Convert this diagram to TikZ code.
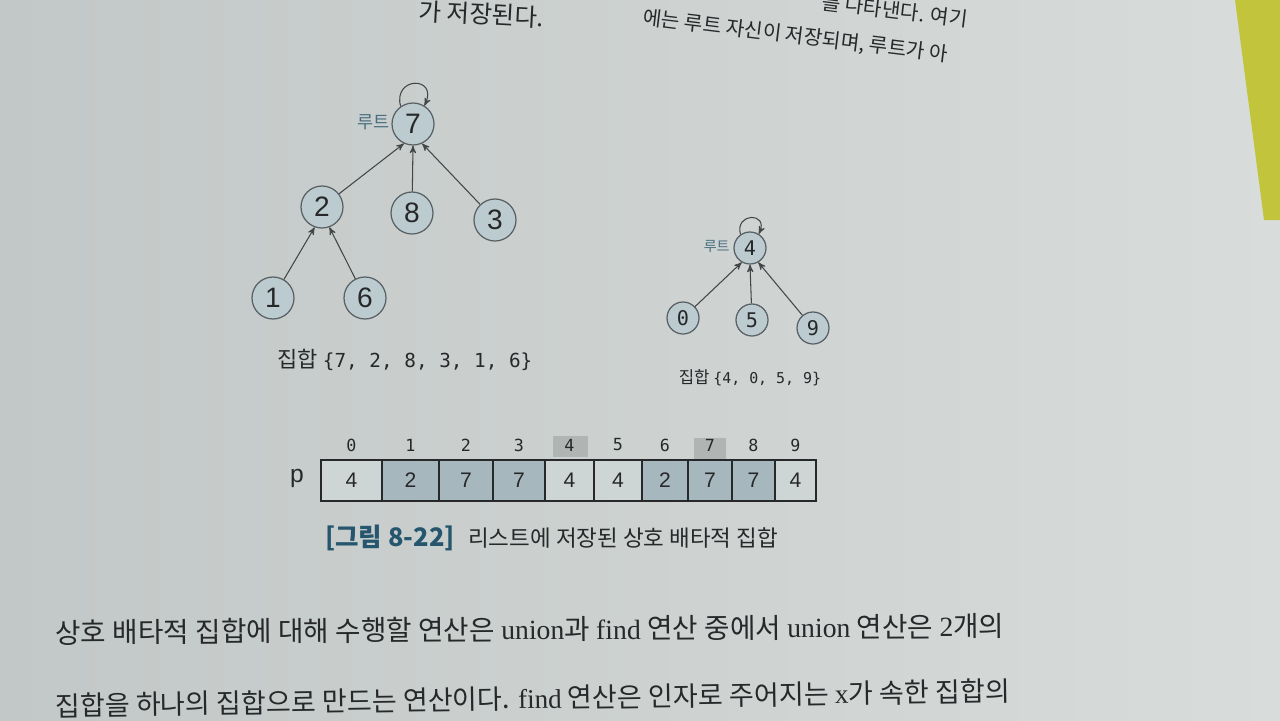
\documentclass[tikz,border=0pt]{standalone}
\usepackage{fontspec}
\setmainfont{Noto Sans CJK KR}
\newfontfamily\latinserif{Liberation Serif}
\newfontfamily\codefont{DejaVu Sans Mono}
\newfontfamily\digitfont{Liberation Sans}
\usetikzlibrary{arrows}

\definecolor{pagegray}{RGB}{216,220,219}
\definecolor{pageshade}{RGB}{194,200,199}
\definecolor{nodefill}{RGB}{188,203,208}
\definecolor{nodeline}{RGB}{88,96,100}
\definecolor{linkgray}{RGB}{66,70,72}
\definecolor{rootblue}{RGB}{74,110,128}
\definecolor{cellpale}{RGB}{206,213,213}
\definecolor{celldark}{RGB}{166,183,189}
\definecolor{markgray}{RGB}{176,180,179}
\definecolor{capblue}{RGB}{38,86,110}
\definecolor{inkgray}{RGB}{38,40,42}
\definecolor{tabyellow}{RGB}{194,197,60}

\newcommand{\eng}[1]{{\latinserif #1}}

\tikzset{
  elem/.style={circle,draw=nodeline,fill=nodefill,line width=0.7pt,minimum size=0.84cm,
               inner sep=0pt,font=\digitfont\fontsize{16}{16}\selectfont},
  selem/.style={elem,minimum size=0.64cm,font=\codefont\fontsize{11.5}{11.5}\selectfont},
  link/.style={draw=linkgray,line width=0.6pt,-stealth'},
  rootlbl/.style={text=rootblue,inner sep=0pt,font=\fontsize{10}{10}\selectfont},
  setlbl/.style={inner sep=0pt,font=\fontsize{12.5}{12.5}\selectfont},
  cell/.style={draw=inkgray,line width=0.7pt,inner sep=0pt,minimum height=0.82cm,
               font=\digitfont\fontsize{12}{12}\selectfont},
  idx/.style={inner sep=0pt,font=\codefont\fontsize{9.5}{9.5}\selectfont},
  idxmark/.style={fill=markgray,inner sep=0pt,minimum width=0.7cm,minimum height=0.42cm},
  toptxt/.style={inner sep=0pt,font=\fontsize{11.5}{11.5}\selectfont},
  bodytxt/.style={inner sep=0pt,font=\fontsize{15.8}{15.8}\selectfont}
}

\begin{document}
\begin{tikzpicture}[x=0.02cm,y=-0.02cm,every node/.append style={text=inkgray}]
  \useasboundingbox (0,0) rectangle (1280,720);
  \shade[left color=pageshade,middle color=pagegray,right color=pagegray] (0,0) rectangle (1280,720);
  \fill[tabyellow] (1235,0) -- (1280,0) -- (1280,220) -- (1264,220) -- cycle;

  % page text cut by the photo
  \node[bodytxt,font=\fontsize{14}{14}\selectfont,anchor=base west,rotate=-3] (t1) at (418,20) {가 저장된다.};
  \node[toptxt,anchor=base east,rotate=-7] (t2) at (967,27) {를 나타낸다. 여기};
  \node[toptxt,anchor=base west,rotate=-7] (t3) at (642,24) {에는 루트 자신이 저장되며, 루트가 아};

  % first set
  \node[elem] (n7) at (413,124) {7};
  \node[elem] (n2) at (322,207) {2};
  \node[elem] (n8) at (412,213) {8};
  \node[elem] (n3) at (495,220) {3};
  \node[elem] (n1) at (273,298) {1};
  \node[elem] (n6) at (365,298) {6};
  \node[rootlbl,anchor=east] (r7) at (390,122) {루트};
  \draw[link] (n7.125) .. controls +(-8,-30) and +(14,-30) .. (n7.58);
  \draw[link] (n2) -- (n7.245);
  \draw[link] (n8) -- (n7.south);
  \draw[link] (n3) -- (n7.295);
  \draw[link] (n1) -- (n2.250);
  \draw[link] (n6) -- (n2.290);
  \node[setlbl] (s1) at (405,360) {집합 {\codefont\fontsize{11}{11}\selectfont\{7, 2, 8, 3, 1, 6\}}};

  % second set
  \node[selem] (n4) at (750,248) {4};
  \node[selem] (n0) at (683,318) {0};
  \node[selem] (n5) at (752,320) {5};
  \node[selem] (n9) at (813,328) {9};
  \node[rootlbl,anchor=east,font=\fontsize{8}{8}\selectfont] (r4) at (730,246) {루트};
  \draw[link] (n4.125) .. controls +(-6,-22) and +(10,-22) .. (n4.58);
  \draw[link] (n0) -- (n4.240);
  \draw[link] (n5) -- (n4.south);
  \draw[link] (n9) -- (n4.300);
  \node[setlbl,font=\fontsize{9.5}{9.5}\selectfont] (s2) at (750,378) {집합 {\codefont\fontsize{8.5}{8.5}\selectfont\{4, 0, 5, 9\}}};

  % list p
  \node[idxmark] (m4) at (570,446) {};
  \node[idxmark,minimum width=0.64cm] (m7) at (710,448) {};
  \foreach \k/\l/\r/\v/\col in {0/321/382/4/cellpale,1/382/439/2/celldark,2/439/493/7/celldark,
      3/493/545/7/celldark,4/545/594/4/cellpale,5/594/642/4/cellpale,6/642/688/2/celldark,
      7/688/732/7/celldark,8/732/775/7/celldark,9/775/816/4/cellpale}
  {
    \node[cell,fill=\col,minimum width={(\r-\l)*0.02cm}] (c\k) at ({(\l+\r)/2},480.5) {\v};
    \node[idx] (i\k) at ({(\l+\r)/2},445) {\k};
  }
  \node[inner sep=0pt,font=\digitfont\fontsize{14}{14}\selectfont] (p) at (297,478) {p};

  \node[anchor=base west,inner sep=0pt,font=\fontsize{12.8}{12.8}\selectfont] (cap) at (325,546)
    {\textcolor{capblue}{\fontsize{14.5}{14.5}\selectfont\bfseries [그림 8-22]}\hspace{0.6em}리스트에 저장된 상호 배타적 집합};

  % text under the figure
  \node[bodytxt,anchor=base west,rotate=0.4] (b1) at (55,643)
    {상호 배타적 집합에 대해 수행할 연산은 \eng{union}과 \eng{find} 연산 중에서 \eng{union} 연산은 \eng{2}개의};
  \node[bodytxt,font=\fontsize{15.4}{15.4}\selectfont,anchor=base west,rotate=0.9] (b2) at (55,716)
    {집합을 하나의 집합으로 만드는 연산이다. \eng{find} 연산은 인자로 주어지는 \eng{x}가 속한 집합의};
\end{tikzpicture}
\end{document}
